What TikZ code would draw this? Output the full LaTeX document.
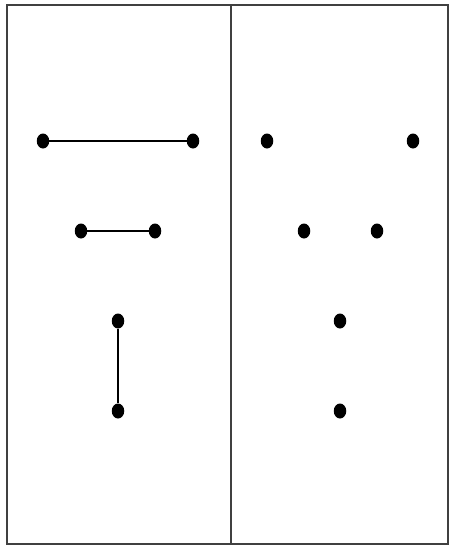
\documentclass[tikz,border=0pt]{standalone}
\usetikzlibrary{shapes.geometric}
\begin{document}
\begin{tikzpicture}[x=1pt,y=-1pt,
  dot/.style={ellipse,fill=black,minimum width=12.5pt,minimum height=15pt,inner sep=0pt},
  frame/.style={draw=black!75,line width=1.6pt},
  link/.style={draw=black,line width=1.3pt}]
\useasboundingbox (0,0) rectangle (451,549);
\draw[frame] (7,5) rectangle (448,544);
\draw[frame] (231,5) -- (231,544);
\node[dot] (a1) at (43,141) {};
\node[dot] (a2) at (193,141) {};
\node[dot] (b1) at (81,231) {};
\node[dot] (b2) at (155,231) {};
\node[dot] (c1) at (118,321) {};
\node[dot] (c2) at (118,411) {};
\node[dot] (d1) at (267,141) {};
\node[dot] (d2) at (413,141) {};
\node[dot] (e1) at (304,231) {};
\node[dot] (e2) at (377,231) {};
\node[dot] (f1) at (340,321) {};
\node[dot] (f2) at (340,411) {};
\draw[link] (a1) -- (a2);
\draw[link] (b1) -- (b2);
\draw[link] (c1) -- (c2);
\end{tikzpicture}
\end{document}
